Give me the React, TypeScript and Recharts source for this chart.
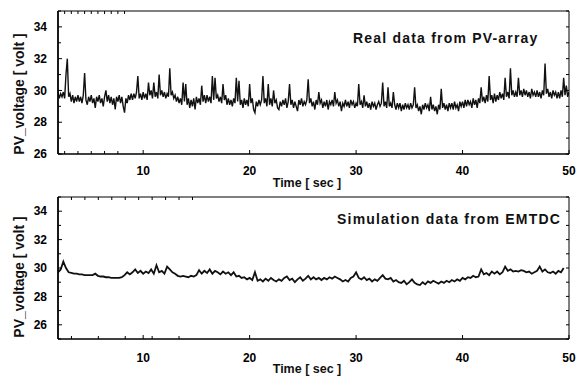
import { Line, LineChart, XAxis, YAxis } from "recharts";

// measured record: 8 samples per second, one row per second
const REAL_T0 = 2;
const REAL_STEP = 0.125;

const realVoltage = [
  29.9, 29.5, 29.8, 29.6, 29.9, 29.5, 31.0, 32.0, // 2 s
  29.6, 29.8, 29.3, 29.7, 29.2, 29.6, 29.3, 29.7,
  29.3, 29.6, 29.2, 29.7, 31.1, 29.4, 29.1, 29.6,
  29.3, 29.7, 29.2, 29.5, 28.9, 29.6, 29.3, 29.7,
  29.2, 29.5, 29.0, 29.6, 30.0, 29.3, 29.7, 29.2,
  29.6, 29.1, 29.5, 28.8, 29.6, 29.3, 29.7, 29.2,
  29.6, 29.0, 28.6, 29.5, 29.2, 29.7, 29.4, 29.8,
  29.4, 29.8, 29.5, 29.9, 30.9, 29.5, 29.8, 29.4,
  29.9, 29.5, 29.8, 29.4, 30.5, 29.7, 30.0, 29.5, // 10 s
  30.5, 29.6, 29.9, 29.5, 31.0, 29.7, 30.0, 29.6,
  29.9, 29.5, 29.8, 29.6, 31.4, 29.7, 29.9, 29.5,
  29.7, 29.3, 29.6, 29.2, 29.5, 29.1, 30.5, 29.3,
  30.4, 29.1, 29.5, 28.9, 29.4, 29.0, 29.5, 28.8,
  29.6, 29.2, 29.5, 29.1, 30.3, 29.3, 29.7, 29.2,
  29.7, 29.3, 29.6, 29.2, 30.9, 29.4, 30.8, 29.5,
  29.7, 29.3, 29.6, 29.2, 30.4, 29.4, 29.7, 29.1,
  29.5, 29.1, 29.4, 29.0, 29.5, 29.2, 30.8, 29.3,
  30.6, 29.1, 29.4, 28.9, 29.5, 29.1, 29.4, 29.0,
  30.4, 29.2, 29.5, 28.8, 28.6, 29.3, 29.0, 29.4, // 20 s
  29.1, 29.4, 30.9, 29.2, 29.5, 29.0, 30.4, 29.1,
  29.5, 29.0, 30.0, 29.2, 29.4, 28.9, 28.8, 29.3,
  29.0, 29.4, 29.1, 29.5, 28.9, 29.3, 30.4, 29.1,
  29.4, 28.9, 29.3, 29.0, 28.7, 29.4, 29.1, 29.5,
  29.0, 29.3, 29.1, 29.4, 30.7, 29.2, 29.5, 29.0,
  29.3, 28.8, 29.4, 29.1, 29.9, 29.2, 29.4, 28.9,
  29.3, 29.0, 29.4, 28.8, 29.3, 29.1, 29.4, 29.0,
  29.9, 29.2, 29.4, 29.0, 29.3, 28.7, 29.2, 29.0,
  29.4, 29.0, 29.3, 28.9, 29.4, 29.1, 29.3, 28.9,
  29.2, 29.0, 30.4, 29.1, 29.3, 28.9, 29.7, 29.0, // 30 s
  29.3, 28.9, 29.2, 28.8, 29.3, 29.0, 29.2, 28.8,
  29.1, 29.3, 29.0, 29.2, 30.5, 29.0, 29.3, 28.9,
  30.2, 29.0, 29.2, 28.9, 29.9, 29.1, 28.8, 29.2,
  28.9, 29.2, 28.7, 29.1, 28.8, 29.2, 28.9, 29.1,
  28.8, 29.2, 28.9, 29.1, 30.2, 28.9, 29.1, 28.7,
  29.0, 28.5, 29.1, 28.8, 29.2, 28.9, 29.1, 28.7,
  29.6, 28.8, 29.1, 28.7, 29.0, 28.5, 29.1, 28.8,
  30.1, 28.9, 29.2, 28.8, 29.1, 28.7, 29.2, 28.9,
  29.2, 28.8, 29.3, 28.9, 29.1, 28.7, 29.3, 29.0,
  29.3, 28.9, 29.4, 29.0, 29.4, 29.1, 29.3, 28.9, // 40 s
  29.5, 29.1, 29.4, 28.9, 29.5, 29.2, 30.2, 29.3,
  29.6, 29.2, 29.7, 29.3, 30.9, 29.4, 29.7, 29.2,
  29.8, 29.3, 29.7, 29.4, 29.9, 29.5, 29.8, 29.4,
  30.8, 29.6, 29.9, 29.5, 31.4, 29.7, 30.0, 29.6,
  29.9, 29.6, 30.8, 29.7, 30.0, 29.6, 30.1, 29.7,
  30.0, 29.6, 29.9, 29.5, 30.1, 29.7, 29.9, 29.6,
  30.0, 29.6, 29.9, 29.5, 30.0, 29.7, 31.7, 29.8,
  30.1, 29.6, 29.9, 29.5, 30.0, 29.7, 29.9, 29.5,
  29.9, 29.5, 30.0, 29.6, 30.8, 29.7, 30.3, 29.6,
  29.9, // 50 s
];

// EMTDC simulation: 4 samples per second, ends at 49.5 s
const SIM_T0 = 2;
const SIM_STEP = 0.25;

const simVoltage = [
  29.7, 29.9, 30.45, 30.0, // 2 s
  29.7, 29.65, 29.6, 29.6,
  29.55, 29.55, 29.5, 29.5,
  29.5, 29.5, 29.6, 29.45,
  29.4, 29.4, 29.35, 29.35,
  29.3, 29.3, 29.3, 29.3,
  29.35, 29.5, 29.7, 29.55,
  29.7, 29.9, 29.65, 29.8,
  29.6, 29.75, 29.65, 29.9, // 10 s
  29.6, 30.2, 29.7, 29.8,
  29.6, 30.1, 29.9, 29.7,
  29.6, 29.45, 29.4, 29.45,
  29.4, 29.35, 29.45, 29.4,
  29.5, 29.85, 29.6, 29.8,
  29.65, 29.9, 29.6, 29.8,
  29.7, 29.55, 29.75, 29.6,
  29.7, 29.5, 29.7, 29.4,
  29.45, 29.3, 29.35, 29.2,
  29.3, 29.15, 29.7, 29.1, // 20 s
  29.2, 29.05, 29.25, 29.1,
  29.3, 29.15, 29.05, 29.2,
  29.1, 29.3, 29.4, 29.15,
  29.25, 29.0, 29.2, 29.35,
  29.1, 29.25, 29.45, 29.2,
  29.35, 29.2, 29.3, 29.15,
  29.3, 29.2, 29.35, 29.25,
  29.4, 29.3, 29.2, 29.05,
  29.15, 29.05, 29.3, 29.4,
  29.7, 29.3, 29.2, 29.35, // 30 s
  29.15, 29.25, 29.05, 29.2,
  29.1, 29.3, 29.5, 29.25,
  29.2, 29.3, 29.05, 29.15,
  29.0, 28.95, 29.1, 28.85,
  29.0, 29.2, 28.95, 28.85,
  28.8, 29.0, 28.85, 29.05,
  28.95, 29.1, 29.0, 28.9,
  29.05, 28.95, 29.1, 29.0,
  29.15, 29.05, 29.2, 29.1,
  29.3, 29.2, 29.35, 29.3, // 40 s
  29.45, 29.35, 29.4, 29.9,
  29.55, 29.65, 29.5, 29.75,
  29.6, 29.75, 29.55, 29.7,
  30.1, 29.8, 29.9, 29.75,
  29.8, 29.75, 29.85, 29.8,
  29.7, 29.75, 29.6, 29.7,
  29.8, 30.1, 29.75, 29.9,
  29.7, 29.65, 29.75, 29.6,
  29.8, 29.7, 30.0, // 49.5 s
];

const timeTicks = [10, 20, 30, 40, 50];
const timeMinorTicks = [5, 15, 25, 35, 45];
const timeAllTicks = [5, 10, 15, 20, 25, 30, 35, 40, 45, 50];
const voltTicks = [26, 28, 30, 32, 34];
const topOddTicks = [27, 29, 31, 33, 35];
const topAllTicks = [26, 27, 28, 29, 30, 31, 32, 33, 34, 35];
const bottomOddTicks = [25, 27, 29, 31, 33, 35];
const bottomAllTicks = [25, 26, 27, 28, 29, 30, 31, 32, 33, 34, 35];

const FONT = "'Liberation Sans', Arial, Helvetica, sans-serif";
const tickFont = { fill: "#000", fontSize: 12, fontWeight: "bold", fontFamily: FONT };
const blank = () => "";

const toRows = (values: number[], t0: number, step: number) => values.map((v, i) => ({ t: t0 + i * step, v }));

type PanelProps = {
  data: { t: number; v: number }[];
  height: number;
  top: number;
  bottom: number;
  yDomain: [number, number];
  yOdd: number[];
  yAll: number[];
  lineWidth: number;
  title: string;
  titleX: number;
  titleY: number;
  yLabelY: number;
  xLabelY: number;
  labelMargin: number;
};

function Panel(p: PanelProps) {
  return (
    <LineChart width={579} height={p.height} data={p.data} margin={{ top: p.top, right: 10, bottom: 0, left: 0 }}>
      {/* bottom axis with labels, ticks pointing inwards */}
      <XAxis
        xAxisId="main"
        dataKey="t"
        type="number"
        domain={[2, 50]}
        allowDataOverflow
        ticks={timeTicks}
        interval={0}
        height={p.bottom}
        tickSize={-4}
        tickMargin={p.labelMargin}
        axisLine={{ stroke: "#000", strokeWidth: 1.6 }}
        tickLine={{ stroke: "#000", strokeWidth: 1 }}
        tick={tickFont}
      />
      <XAxis
        xAxisId="minor"
        type="number"
        domain={[2, 50]}
        allowDataOverflow
        mirror
        ticks={timeMinorTicks}
        interval={0}
        tickSize={3}
        axisLine={false}
        tickLine={{ stroke: "#000", strokeWidth: 1 }}
        tickFormatter={blank}
      />
      <XAxis
        xAxisId="top"
        orientation="top"
        type="number"
        domain={[2, 50]}
        allowDataOverflow
        mirror
        ticks={timeAllTicks}
        interval={0}
        tickSize={3}
        axisLine={{ stroke: "#000", strokeWidth: 1 }}
        tickLine={{ stroke: "#000", strokeWidth: 1 }}
        tickFormatter={blank}
      />
      <YAxis
        yAxisId="main"
        type="number"
        domain={p.yDomain}
        allowDataOverflow
        ticks={voltTicks}
        interval={0}
        width={58}
        tickSize={-4}
        tickMargin={15}
        axisLine={{ stroke: "#000", strokeWidth: 1.8 }}
        tickLine={{ stroke: "#000", strokeWidth: 1 }}
        tick={tickFont}
      />
      <YAxis
        yAxisId="minor"
        type="number"
        domain={p.yDomain}
        allowDataOverflow
        mirror
        ticks={p.yOdd}
        interval={0}
        tickSize={3}
        axisLine={false}
        tickLine={{ stroke: "#000", strokeWidth: 1 }}
        tickFormatter={blank}
      />
      <YAxis
        yAxisId="right"
        orientation="right"
        type="number"
        domain={p.yDomain}
        allowDataOverflow
        mirror
        ticks={p.yAll}
        interval={0}
        tickSize={3}
        axisLine={{ stroke: "#000", strokeWidth: 1 }}
        tickLine={{ stroke: "#000", strokeWidth: 1 }}
        tickFormatter={blank}
      />
      <Line
        xAxisId="main"
        yAxisId="main"
        dataKey="v"
        type="linear"
        stroke="#111"
        strokeWidth={p.lineWidth}
        dot={false}
        isAnimationActive={false}
      />
      <text x={p.titleX} y={p.titleY} fontFamily={FONT} fontSize={14} fontWeight="bold" letterSpacing={1.2} fill="#111">
        {p.title}
      </text>
      <text
        transform={`translate(24,${p.yLabelY}) rotate(-90)`}
        textAnchor="middle"
        fontFamily={FONT}
        fontSize={14}
        fontWeight="bold"
        fill="#111"
      >
        PV_voltage [ volt ]
      </text>
      <text x={307} y={p.xLabelY} textAnchor="middle" fontFamily={FONT} fontSize={12.5} fontWeight="bold" fill="#111">
        Time [ sec ]
      </text>
    </LineChart>
  );
}

export default function App() {
  return (
    <div style={{ position: "absolute", left: 0, top: 0, width: 579, height: 376, background: "#fff" }}>
      <Panel
        data={toRows(realVoltage, REAL_T0, REAL_STEP)}
        height={190}
        top={11}
        bottom={36}
        yDomain={[26, 35]}
        yOdd={topOddTicks}
        yAll={topAllTicks}
        lineWidth={1.4}
        title="Real data from PV-array"
        titleX={353}
        titleY={43}
        yLabelY={94}
        xLabelY={186.5}
        labelMargin={16}
      />
      <Panel
        data={toRows(simVoltage, SIM_T0, SIM_STEP)}
        height={186}
        top={7}
        bottom={37}
        yDomain={[25, 35]}
        yOdd={bottomOddTicks}
        yAll={bottomAllTicks}
        lineWidth={1.8}
        title="Simulation data from EMTDC"
        titleX={337}
        titleY={34}
        yLabelY={87}
        xLabelY={182.5}
        labelMargin={18}
      />
    </div>
  );
}
